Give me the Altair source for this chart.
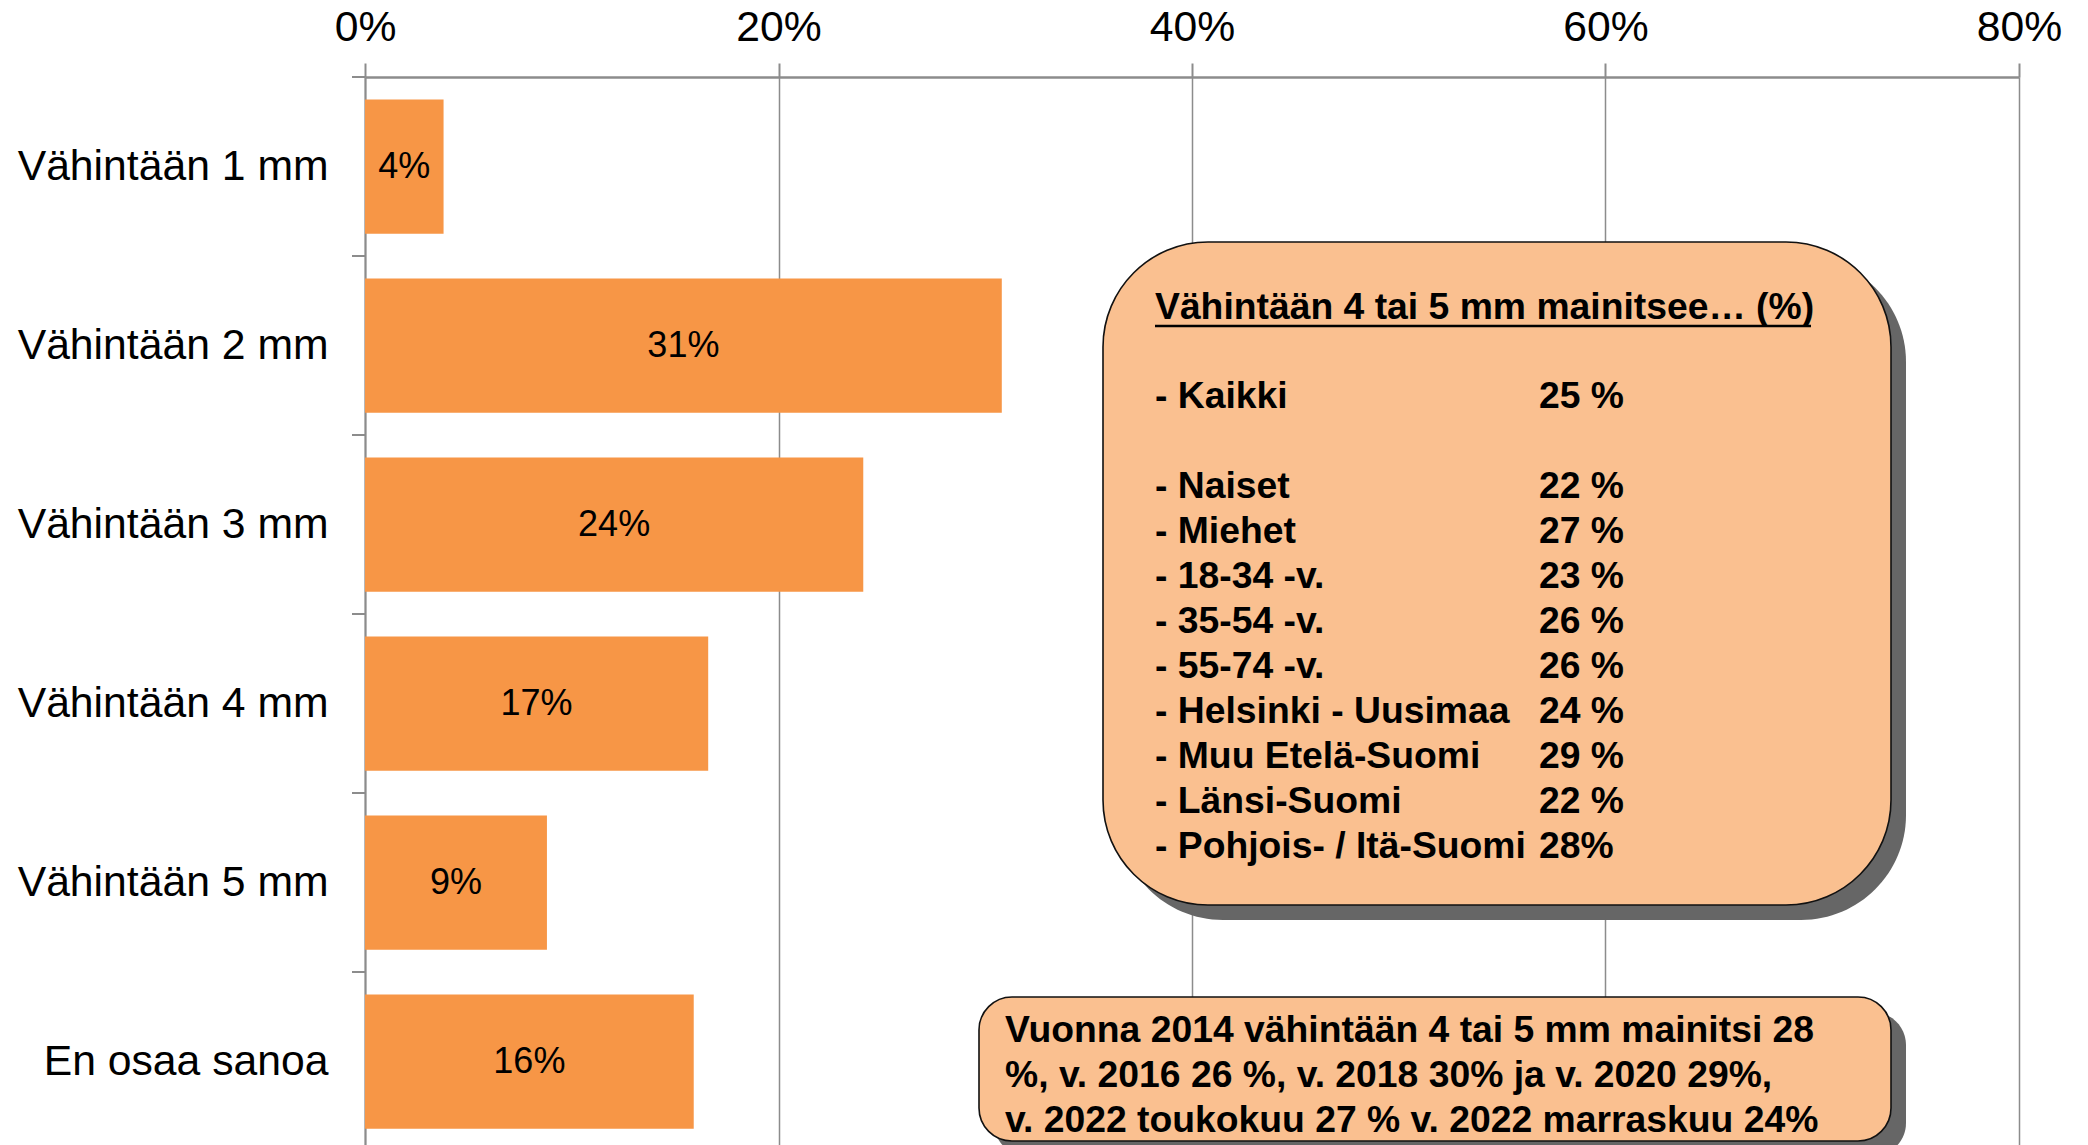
import altair as alt
import pandas as pd

# ---------------- data ----------------
categories = ["Vähintään 1 mm", "Vähintään 2 mm", "Vähintään 3 mm",
              "Vähintään 4 mm", "Vähintään 5 mm", "En osaa sanoa"]
shares = [0.038, 0.308, 0.241, 0.166, 0.088, 0.159]
x_ticks = [0, 0.2, 0.4, 0.6, 0.8]

box_title = "Vähintään 4 tai 5 mm mainitsee… (%)"
total_label = "- Kaikki"
total_value = "25 %"
group_labels = ["- Naiset", "- Miehet", "- 18-34 -v.", "- 35-54 -v.",
                "- 55-74 -v.", "- Helsinki - Uusimaa", "- Muu Etelä-Suomi",
                "- Länsi-Suomi", "- Pohjois- / Itä-Suomi"]
group_values = ["22 %", "27 %", "23 %", "26 %", "26 %", "24 %", "29 %",
                "22 %", "28%"]
history_lines = ["Vuonna 2014 vähintään 4 tai 5 mm mainitsi 28",
                 "%, v. 2016 26 %, v. 2018 30% ja v. 2020 29%,",
                 "v. 2022 toukokuu 27 % v. 2022 marraskuu 24%"]

# ---------------- style ----------------
FONT = "Liberation Sans, Arial, Helvetica, sans-serif"
GRAY = "#8c8c8c"
BAR = "#F79646"
BOX = "#FAC090"
SHADOW = "#666666"

bars_df = pd.DataFrame({"cat": categories, "value": shares})

y_scale = alt.Scale(domain=categories, range=[0, 1074], paddingInner=0, paddingOuter=0)
y_enc = alt.Y("cat:N", sort=categories, scale=y_scale,
              axis=alt.Axis(title=None, labelFont=FONT, labelFontSize=42.7, labelColor="black",
                            labelPadding=37, ticks=False, domainColor=GRAY, domainWidth=2,
                            labelLimit=500, grid=False))
x_enc = alt.X("value:Q", scale=alt.Scale(domain=[0, 0.8], nice=False),
              axis=alt.Axis(orient="top", values=x_ticks, format=".0%", title=None,
                            labelFont=FONT, labelFontSize=42.7, labelColor="black",
                            labelBaseline="alphabetic", labelPadding=23, labelFlush=False,
                            labelOverlap=False,
                            tickSize=14, tickColor=GRAY, tickWidth=2,
                            domainColor=GRAY, domainWidth=2.5,
                            grid=True, gridColor=GRAY, gridWidth=1.5))

bars = alt.Chart(bars_df).mark_bar(color=BAR, height={"band": 0.75}).encode(x=x_enc, y=y_enc)

bar_labels = alt.Chart(bars_df).transform_calculate(mid="datum.value / 2").mark_text(
    font=FONT, fontSize=36, color="black", baseline="middle"
).encode(
    x=alt.X("mid:Q"),
    y=alt.Y("cat:N", sort=categories),
    text=alt.Text("value:Q", format=".0%"),
)

cat_ticks = alt.Chart(bars_df).mark_rule(color=GRAY, strokeWidth=2).encode(
    y=alt.Y("cat:N", sort=categories, bandPosition=0),
    x=alt.value(-13), x2=alt.value(0),
)

one = pd.DataFrame({"k": [0]})


def rbox(x1, x2, y1, y2, r, fill, stroke=None):
    kw = dict(fill=fill, cornerRadius=r)
    if stroke:
        kw.update(stroke=stroke, strokeWidth=1.6)
    return alt.Chart(one).mark_rect(**kw).encode(
        x=alt.value(x1), x2=alt.value(x2), y=alt.value(y1), y2=alt.value(y2))


SH = 15
box1_shadow = rbox(738 + SH, 1526 + SH, 165 + SH, 828 + SH, 105, SHADOW)
box1 = rbox(738, 1526, 165, 828, 105, BOX, "#111111")
box2_shadow = rbox(614 + SH, 1526 + SH, 920 + SH, 1064 + SH, 33, SHADOW)
box2 = rbox(614, 1526, 920, 1064, 33, BOX, "#111111")

bold = dict(font=FONT, fontSize=37.3, fontWeight="bold", color="black", align="left")


def text_block(lines, x, y, lh=45):
    return alt.Chart(pd.DataFrame({"t": ["\n".join(lines)]})).mark_text(
        baseline="line-top", lineBreak="\n", lineHeight=lh, **bold
    ).encode(x=alt.value(x), y=alt.value(y), text="t:N")


title_txt = alt.Chart(pd.DataFrame({"t": [box_title]})).mark_text(
    baseline="middle", **bold).encode(x=alt.value(790), y=alt.value(231), text="t:N")
title_line = alt.Chart(one).mark_rule(color="black", strokeWidth=2.5).encode(
    x=alt.value(790), x2=alt.value(1446), y=alt.value(249))

total_lbl = text_block([total_label], 790, 297.5)
total_val = text_block([total_value], 1174, 297.5)
labels_txt = text_block(group_labels, 790, 387.5)
values_txt = text_block(group_values, 1174, 387.5)
history_txt = text_block(history_lines, 640, 932)

chart = alt.layer(
    bars, bar_labels, cat_ticks,
    box1_shadow, box1, title_txt, title_line, total_lbl, total_val, labels_txt, values_txt,
    box2_shadow, box2, history_txt,
).properties(
    width=1654, height=1068,
    padding={"left": 357, "top": 69, "right": 60, "bottom": 0},
    autosize=alt.AutoSizeParams(type="none"),
).configure_view(stroke=None)

chart.save("out.html", embed_options={"renderer": "svg", "actions": False})
